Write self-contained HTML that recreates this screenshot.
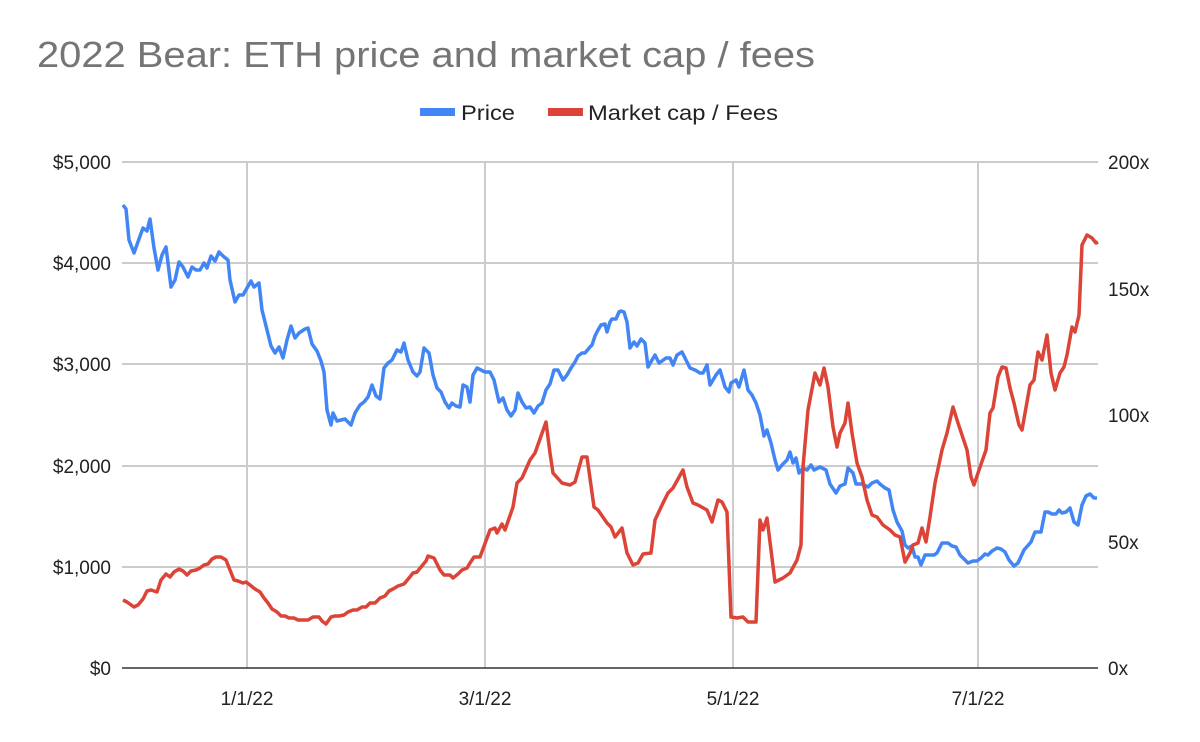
<!DOCTYPE html>
<html><head><meta charset="utf-8"><style>
html,body{margin:0;padding:0;background:#fff;}
svg{display:block;font-family:"Liberation Sans",Arial,sans-serif;}
</style></head><body>
<svg width="1200" height="742" viewBox="0 0 1200 742" xmlns="http://www.w3.org/2000/svg">
<rect width="1200" height="742" fill="#fff"/>
<text x="37" y="67" font-size="36" fill="#757575" textLength="778" lengthAdjust="spacingAndGlyphs">2022 Bear: ETH price and market cap / fees</text>
<rect x="420" y="108" width="35" height="8" fill="#4285f4"/>
<text x="461" y="120" font-size="21" fill="#222" textLength="54" lengthAdjust="spacingAndGlyphs">Price</text>
<rect x="548" y="108" width="35" height="8" fill="#db4437"/>
<text x="588" y="120" font-size="21" fill="#222" textLength="190" lengthAdjust="spacingAndGlyphs">Market cap / Fees</text>
<g stroke="#cccccc" stroke-width="2">
<line x1="122" y1="162" x2="1098" y2="162"/>
<line x1="122" y1="263" x2="1098" y2="263"/>
<line x1="122" y1="364" x2="1098" y2="364"/>
<line x1="122" y1="466" x2="1098" y2="466"/>
<line x1="122" y1="567" x2="1098" y2="567"/>
<line x1="247" y1="162" x2="247" y2="668"/>
<line x1="485" y1="162" x2="485" y2="668"/>
<line x1="733" y1="162" x2="733" y2="668"/>
<line x1="978" y1="162" x2="978" y2="668"/>
</g>
<line x1="122" y1="668" x2="1098" y2="668" stroke="#333" stroke-width="1.5"/>
<g font-size="19" fill="#222" text-anchor="end">
<text x="111" y="169">$5,000</text>
<text x="111" y="270">$4,000</text>
<text x="111" y="371">$3,000</text>
<text x="111" y="473">$2,000</text>
<text x="111" y="574">$1,000</text>
<text x="111" y="675">$0</text>
</g>
<g font-size="19" fill="#222">
<text x="1108" y="169">200x</text>
<text x="1108" y="296">150x</text>
<text x="1108" y="422">100x</text>
<text x="1108" y="549">50x</text>
<text x="1108" y="675">0x</text>
</g>
<g font-size="19" fill="#222" text-anchor="middle">
<text x="247" y="705">1/1/22</text>
<text x="485" y="705">3/1/22</text>
<text x="733" y="705">5/1/22</text>
<text x="978" y="705">7/1/22</text>
</g>
<polyline fill="none" stroke="#4285f4" stroke-width="3.5" stroke-linejoin="round" points="123,205 126,209 129,240 134,253 139,239 143,228 147,231 150,219 154,248 158,270 162,255 166,247 171,287 175,280 179,262 183,267 188,277 192,267 196,270 200,270 204,263 207,268 211,256 215,261 219,252 223,256 228,260 230,280 235,302 239,295 243,295 247,288 251,281 254,287 259,283 262,310 267,330 271,346 275,353 279,347 283,358 287,340 291,326 295,338 299,333 305,329 308,328 312,344 317,351 321,361 324,372 327,410 331,425 333,413 337,421 345,419 351,425 355,413 360,405 364,402 368,397 372,385 376,396 380,399 384,368 388,363 392,360 397,350 401,352 404,343 408,360 413,372 417,376 420,372 424,348 429,353 433,375 437,388 441,392 445,402 449,408 452,403 456,406 460,407 463,385 467,387 470,402 473,375 477,368 481,370 485,372 490,372 494,380 499,402 503,398 507,410 511,416 515,410 518,393 522,402 526,408 530,407 534,413 538,406 542,403 546,390 550,384 554,370 558,370 563,380 567,375 571,368 575,362 578,356 582,353 585,353 590,347 592,345 595,336 598,330 601,325 605,324 607,332 610,322 612,319 616,319 619,312 621,311 624,312 627,322 630,348 634,342 637,346 641,339 645,343 648,367 652,360 655,355 659,363 662,361 666,358 670,358 673,365 677,355 682,352 685,358 690,368 695,370 700,373 703,373 707,365 710,385 713,380 716,375 720,370 725,387 729,392 731,383 736,380 739,387 744,370 748,390 752,395 756,403 760,415 764,436 767,430 771,443 775,460 778,470 782,465 787,460 790,452 793,463 796,458 799,473 803,468 807,470 811,465 814,470 820,467 826,470 830,484 836,493 840,486 845,484 848,468 853,473 856,484 862,484 868,487 872,483 877,481 880,484 885,488 889,490 893,510 897,522 902,531 905,545 908,548 912,546 915,557 918,557 921,565 925,555 930,555 934,555 937,553 942,543 948,543 952,546 956,547 960,555 964,559 968,563 973,561 977,561 981,558 985,554 988,555 992,551 997,548 1001,549 1005,552 1009,560 1014,566 1018,563 1024,550 1031,542 1035,532 1041,532 1045,512 1048,512 1052,514 1056,514 1059,510 1062,513 1066,512 1070,508 1074,522 1078,525 1082,505 1086,496 1090,494 1094,498 1097,498"/>
<polyline fill="none" stroke="#db4437" stroke-width="3.5" stroke-linejoin="round" points="123,600 127,602 134,607 138,605 143,599 147,591 151,590 157,592 161,580 166,574 170,577 174,572 179,569 183,571 187,575 191,571 196,570 200,568 204,565 208,564 212,559 216,557 221,557 226,560 230,570 234,580 238,581 243,583 246,582 250,585 255,589 260,592 264,598 268,603 272,609 277,612 281,616 285,616 289,618 294,618 298,620 302,620 308,620 313,617 319,617 322,621 326,624 331,617 335,616 339,616 344,615 348,612 353,610 357,610 362,607 366,607 370,603 375,603 380,598 385,596 389,591 393,589 398,586 404,584 409,578 413,573 417,572 421,567 426,561 428,556 434,558 440,570 444,575 450,575 453,578 458,574 462,570 467,568 470,563 474,557 480,557 490,530 495,528 497,533 502,524 505,530 513,507 517,483 522,478 530,460 535,453 546,422 550,453 553,473 562,483 570,485 575,482 582,457 587,457 594,507 598,510 607,523 611,527 615,537 622,528 627,553 633,565 638,563 643,554 651,553 655,520 663,503 668,493 673,488 683,470 687,487 693,503 698,505 707,510 712,522 718,500 722,502 727,512 731,617 737,618 743,617 748,622 756,622 760,520 763,530 767,518 775,582 783,578 790,573 797,560 801,545 803,467 808,410 815,373 820,385 824,368 828,387 833,427 837,447 840,433 845,423 848,403 852,433 857,463 862,477 867,500 872,515 877,517 883,525 890,530 895,535 900,537 905,562 910,553 913,545 918,543 922,528 926,542 930,517 935,483 942,450 947,433 953,407 958,423 967,450 971,477 974,485 979,470 986,450 990,413 993,408 998,377 1002,367 1006,368 1010,388 1014,403 1019,425 1022,430 1030,385 1034,380 1038,352 1042,360 1047,335 1051,373 1055,390 1060,373 1064,367 1067,355 1072,327 1075,332 1079,315 1082,245 1087,235 1092,238 1096,243 1098,242"/>
</svg>
</body></html>
